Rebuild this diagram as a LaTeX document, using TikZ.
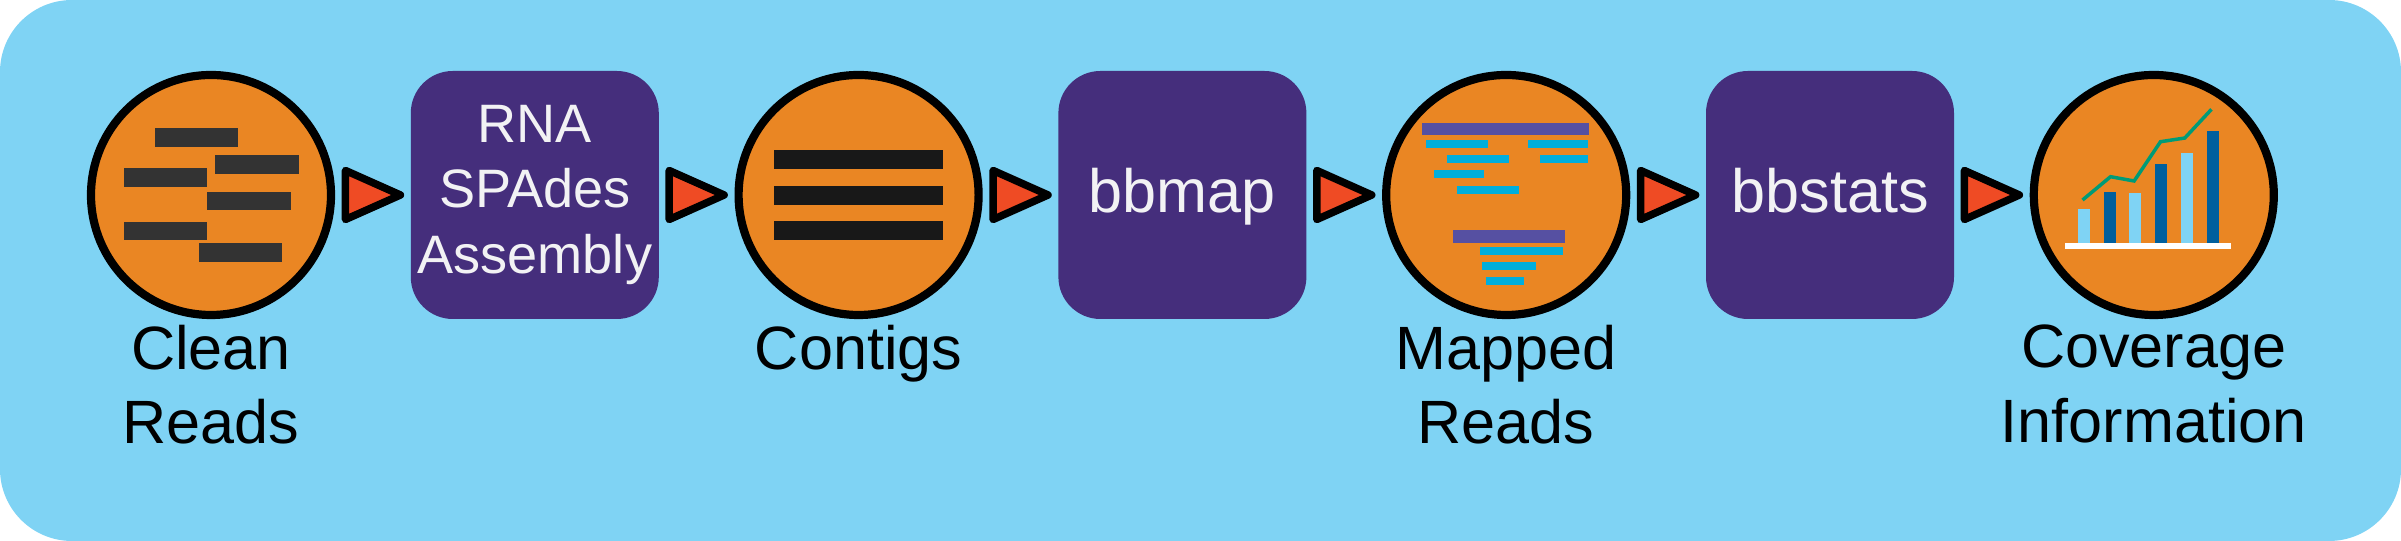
\documentclass[tikz,border=0pt]{standalone}
\usepackage{fontspec}
\setmainfont{Liberation Sans}
\usetikzlibrary{shapes.geometric,positioning}
\definecolor{panelblue}{HTML}{7FD3F4}
\definecolor{stageorange}{HTML}{EA8623}
\definecolor{toolpurple}{HTML}{452E7C}
\definecolor{tipred}{HTML}{EF4B24}
\definecolor{readgrey}{HTML}{333333}
\definecolor{contigblack}{HTML}{181818}
\definecolor{refpurple}{HTML}{5650A2}
\definecolor{hitcyan}{HTML}{00AEDC}
\definecolor{barnavy}{HTML}{005F9D}
\definecolor{linegreen}{HTML}{009B77}
\definecolor{textwhite}{HTML}{F2F2F4}

\begin{document}
\begin{tikzpicture}[auto, node distance=3.238cm]
\tikzstyle{panel} = [fill=panelblue, rectangle, rounded corners=0.72cm,
    minimum width=24.01cm, minimum height=5.41cm, inner sep=0pt, outer sep=0pt]
\tikzstyle{stage} = [draw=black, fill=stageorange, circle, line width=0.082cm,
    minimum size=2.4cm, inner sep=0pt]
\tikzstyle{tool} = [fill=toolpurple, rectangle, rounded corners=0.42cm,
    minimum size=2.48cm, inner sep=0pt, outer sep=0pt, text=textwhite, align=center,
    font=\fontsize{15.4}{18.5}\selectfont]
\tikzstyle{toolword} = [tool, font=\fontsize{17.4}{21}\selectfont,
    text height=0.445cm, text depth=0.091cm]
\tikzstyle{flowtip} = [draw=black, fill=tipred, isosceles triangle,
    isosceles triangle stretches, line width=0.075cm, line join=round,
    minimum width=0.49cm, minimum height=0.55cm, inner sep=0pt, outer sep=0pt,
    anchor=lower side, xshift=-0.275cm]
\tikzstyle{caption} = [align=center, inner sep=0pt, text=black,
    font=\fontsize{17.4}{21.3}\selectfont]
    % The panel goes first so that everything else sits on top of it
    \node [panel] (panel) at (9.895,-0.755) {};
    % We start by placing the stages and the tools
    \node [stage] (clean) at (0,0) {};
    \node [tool, right of=clean] (spades) {RNA\\SPAdes\\Assembly};
    \node [stage, right of=spades] (contigs) {};
    \node [toolword, right of=contigs] (bbmap) {bbmap};
    \node [stage, right of=bbmap] (mapped) {};
    \node [toolword, right of=mapped] (bbstats) {bbstats};
    \node [stage, right of=bbstats] (coverage) {};

    % Captions under the stages
    \node [caption, below=0.05cm of clean] (cleantext) {Clean\\Reads};
    \node [caption, below=0.05cm of contigs] (contigstext) {Contigs};
    \node [caption, below=0.05cm of mapped] (mappedtext) {Mapped\\Reads};
    \node [caption, below=0.05cm of coverage] (coveragetext) {Coverage\\Information};

    % The red triangles sit halfway between neighbours
    \path (clean) -- node [flowtip] (flowa) {} (spades);
    \path (spades) -- node [flowtip] (flowb) {} (contigs);
    \path (contigs) -- node [flowtip] (flowc) {} (bbmap);
    \path (bbmap) -- node [flowtip] (flowd) {} (mapped);
    \path (mapped) -- node [flowtip] (flowe) {} (bbstats);
    \path (bbstats) -- node [flowtip] (flowf) {} (coverage);

    % Icons, offsets counted in 0.01cm from the centre of each stage
    \begin{scope}[shift={(clean)}, x=0.01cm, y=-0.01cm]
    \foreach \bx/\by in {-56/-66.7, 4.4/-39.7, -87.3/-26.7, -3.9/-3.3, -87.3/26.7, -12.2/48.3}
        \fill [readgrey] (\bx,\by) rectangle ++(83.5,18.4);
    \end{scope}
    \begin{scope}[shift={(contigs)}, x=0.01cm, y=-0.01cm]
    \foreach \by in {-45, -9.3, 26}
        \fill [contigblack] (-84.7,\by) rectangle ++(168.8,19);
    \end{scope}
    \begin{scope}[shift={(mapped)}, x=0.01cm, y=-0.01cm]
    \fill [refpurple] (-84,-72.3) rectangle ++(167,12.7);
    \fill [refpurple] (-53.7,35) rectangle ++(113,12.7);
    \foreach \bx/\by/\bw in {-80/-55.3/62, 22/-55.3/60.3, -59/-40/61.3, 34/-40/47.7,
            -72/-25/49.3, -49.7/-9.3/62, -26.7/52/84, -24/67/54.3, -20.7/82/38}
        \fill [hitcyan] (\bx,\by) rectangle ++(\bw,8.2);
    \end{scope}
    \begin{scope}[shift={(coverage)}, x=0.01cm, y=-0.01cm]
    \foreach \bx/\by/\bc in {-75.7/13.7/panelblue, -50/-2.7/barnavy, -24.7/-1.7/panelblue,
            1.3/-30.7/barnavy, 27/-41.7/panelblue, 53/-63.7/barnavy}
        \fill [\bc] (\bx,\by) rectangle (\bx+12.2,47.7);
    \fill [white] (-88.7,47.7) rectangle ++(165.7,6.6);
    \draw [linegreen, line width=0.035cm] (-71.3,5) -- (-43.3,-18.3) -- (-19.7,-14)
        -- (6.7,-53.3) -- (31,-57) -- (57.7,-85.7);
    \end{scope}
\end{tikzpicture}
\end{document}
